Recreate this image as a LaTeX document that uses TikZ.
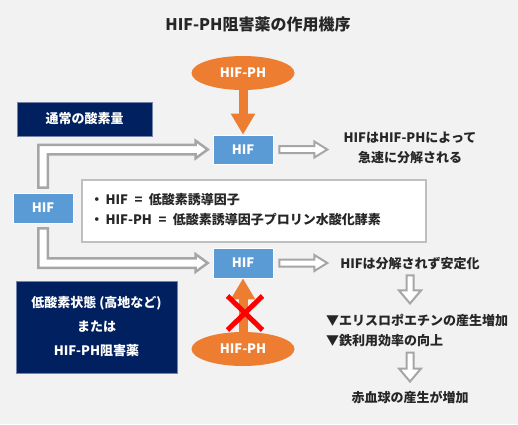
\documentclass[tikz,border=0pt]{standalone}
\usepackage{fontspec}
\setmainfont{Noto Sans CJK JP}
\usepackage{xcolor}
\usepackage{tikz}
\usetikzlibrary{arrows.meta,shapes.geometric,shapes.misc,positioning,calc}
\definecolor{hifblue}{RGB}{91,155,213}
\definecolor{enzorange}{RGB}{237,125,49}
\definecolor{deepnavy}{RGB}{0,32,96}
\definecolor{arrgray}{RGB}{166,166,166}
\definecolor{bggray}{RGB}{242,242,242}
\definecolor{txtgray}{RGB}{38,38,38}
\definecolor{legendedge}{RGB}{191,191,191}

\begin{document}
\begin{tikzpicture}[x=1pt, y=-1pt,
    hifbox/.style  = {rectangle, fill=hifblue, draw=white, line width=0.6pt,
                      minimum width=60pt, minimum height=29pt, inner sep=0pt,
                      font=\fontsize{13}{15}\selectfont\bfseries\color{white}},
    navybox/.style = {rectangle, fill=deepnavy, draw=deepnavy!55!white, line width=0.6pt,
                      align=center, inner sep=0pt,
                      font=\fontsize{13}{24}\selectfont\bfseries\color{white}},
    enzyme/.style  = {ellipse, fill=enzorange, minimum width=103pt, minimum height=34pt,
                      inner sep=0pt, font=\fontsize{13}{15}\selectfont\bfseries\color{white}},
    note/.style    = {align=center, inner sep=0pt, text=txtgray,
                      font=\fontsize{13}{20}\selectfont\bfseries},
    hollow/.style  = {draw=arrgray, fill=white, line width=2pt, line join=miter},
    hollowL/.style = {hollow, line width=2.5pt},
    pusharr/.style = {draw=enzorange, line width=9pt, -{Triangle[width=23pt, length=21pt]}}
  ]
    \path[use as bounding box, fill=bggray] (0,0) rectangle (518,424);

    \node[text=txtgray, font=\fontsize{16}{18}\selectfont\bfseries] (title) at (258,24) {HIF-PH阻害薬の作用機序};

    \node[enzyme]  (phtop) at (243,73)  {HIF-PH};
    \node[navybox, minimum width=135pt, minimum height=34pt] (normal) at (84.5,119) {通常の酸素量};
    \node[hifbox]  (hifT)  at (243,149.5) {HIF};
    \node[hifbox, minimum height=30pt] (hifL) at (43,208) {HIF};
    \node[hifbox, minimum height=30pt] (hifB) at (243,263) {HIF};

    \node[draw=legendedge, fill=white, line width=1.5pt, minimum width=344pt,
          minimum height=62pt, inner sep=0pt] (legend) at (254,211) {};
    \node[note, align=left, anchor=west] (defs) at ($(legend.west)+(9,-1.5)$)
      {・\,HIF\enspace=\enspace 低酸素誘導因子\\・\,HIF-PH\enspace=\enspace 低酸素誘導因子プロリン水酸化酵素};

    \node[navybox, minimum width=161pt, minimum height=92pt] (hypoxia) at (96.5,327)
      {低酸素状態 (高地など)\\または\\HIF-PH阻害薬};
    \node[enzyme]  (phbot) at (243,349) {HIF-PH};

    \node[note] (fast)   at (410,148) {HIFはHIF-PHによって\\急速に分解される};
    \node[note] (stable) at (410,264) {HIFは分解されず安定化};
    \node[note, align=left, anchor=west] (effects) at (326,330)
      {▼エリスロポエチンの産生増加\\▼鉄利用効率の向上};
    \node[note] (rbc)    at (410,397) {赤血球の産生が増加};

    % orange arrows
    \draw[pusharr] (phtop.south) -- (hifT.north);
    \draw[pusharr] (phbot.north) -- (hifB.south);
    \node[cross out, draw=red, line width=5pt, minimum width=35pt, minimum height=34pt,
          inner sep=0pt, outer sep=0pt] (block) at (245,313) {};

    % hollow arrows out of the left HIF
    \coordinate (tipU) at ($(hifT.west)+(-5,0)$);
    \coordinate (tipD) at ($(hifB.west)+(-5,0)$);
    \filldraw[hollowL] ($(hifL.north)+(-4.75,-5)$) |- ($(tipU)+(-12,-4.75)$) -- ++(0,-4)
      -- (tipU) -- ++(-12,8.75) -- ++(0,-4) -| ($(hifL.north)+(4.75,-5)$) -- cycle;
    \filldraw[hollowL] ($(hifL.south)+(-4.75,5)$) |- ($(tipD)+(-12,4.75)$) -- ++(0,4)
      -- (tipD) -- ++(-12,-8.75) -- ++(0,4) -| ($(hifL.south)+(4.75,5)$) -- cycle;

    % hollow arrows to the results
    \filldraw[hollow] ($(hifT.east)+(6,-3.5)$) -- ++(35,0) -- ++(0,-4.5) -- ++(13,8)
      -- ++(-13,8) -- ++(0,-4.5) -- ++(-35,0) -- cycle;
    \filldraw[hollow] ($(hifB.east)+(6,-3.5)$) -- ++(35,0) -- ++(0,-4.5) -- ++(13,8)
      -- ++(-13,8) -- ++(0,-4.5) -- ++(-35,0) -- cycle;
    \filldraw[hollow] ($(stable.south)+(-3.5,5)$) -- ++(0,15) -- ++(-7.5,0) -- ++(11,13)
      -- ++(11,-13) -- ++(-7.5,0) -- ++(0,-15) -- cycle;
    \filldraw[hollow] ($(effects.south west)+(80.5,6)$) -- ++(0,16) -- ++(-7.5,0) -- ++(11,13)
      -- ++(11,-13) -- ++(-7.5,0) -- ++(0,-16) -- cycle;
  \end{tikzpicture}
\end{document}
